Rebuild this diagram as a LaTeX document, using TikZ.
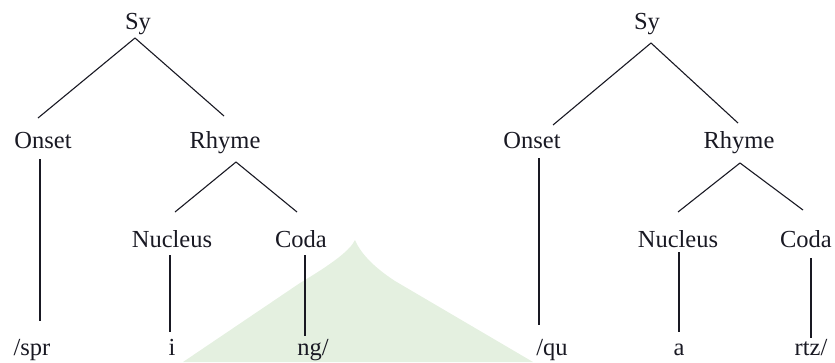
\documentclass[tikz,border=0pt]{standalone}
\usepackage{fontspec}
\setmainfont{Liberation Serif}
\definecolor{wm}{RGB}{228,240,224}
\definecolor{ink}{RGB}{25,25,35}
\begin{document}
\begin{tikzpicture}[x=1pt,y=-1pt,
  lbl/.style={anchor=base,inner sep=0pt,font=\fontsize{24.5}{28}\selectfont,text=ink},
  edge/.style={draw=ink,line width=1.1pt}]
\useasboundingbox (0,0) rectangle (835,362);
% watermark
\fill[wm] (183,362) -- (300,283) .. controls (335,262) and (350,250) .. (355,240)
  .. controls (360,252) and (372,266) .. (395,281) -- (533,362) -- cycle;
% left tree
\node[lbl] (sy) at (138,29) {Sy};
\node[lbl] (on) at (43,148) {Onset};
\node[lbl] (rh) at (225,148) {Rhyme};
\node[lbl] (nu) at (172,247) {Nucleus};
\node[lbl] (co) at (301,247) {Coda};
\node[lbl] (spr) at (32,355) {/spr};
\node[lbl] (i) at (172,355) {i};
\node[lbl] (ng) at (313,355) {ng/};
\draw[edge] ([shift={(-3,9)}]sy.base) -- ([shift={(-5,-30)}]on.base);
\draw[edge] ([shift={(-3,9)}]sy.base) -- ([shift={(-1,-32)}]rh.base);
\draw[edge] ([shift={(11,14)}]rh.base) -- ([shift={(3,-35)}]nu.base);
\draw[edge] ([shift={(11,14)}]rh.base) -- ([shift={(-4,-35)}]co.base);
\draw[edge] ([shift={(-3,11)}]on.base) -- ([shift={(8,-34)}]spr.base);
\draw[edge] ([shift={(-2,8)}]nu.base) -- ([shift={(-2,-23)}]i.base);
\draw[edge] ([shift={(4,8)}]co.base) -- ([shift={(-8,-19)}]ng.base);
% right tree
\node[lbl] (sy2) at (647,29) {Sy};
\node[lbl] (on2) at (532,148) {Onset};
\node[lbl] (rh2) at (739,148) {Rhyme};
\node[lbl] (nu2) at (678,247) {Nucleus};
\node[lbl] (co2) at (806,247) {Coda};
\node[lbl] (qu) at (552,355) {/qu};
\node[lbl] (a) at (679,355) {a};
\node[lbl] (rtz) at (811,355) {rtz/};
\draw[edge] ([shift={(4,14)}]sy2.base) -- ([shift={(21,-23)}]on2.base);
\draw[edge] ([shift={(4,14)}]sy2.base) -- ([shift={(-1,-25)}]rh2.base);
\draw[edge] ([shift={(1,15)}]rh2.base) -- ([shift={(0,-35)}]nu2.base);
\draw[edge] ([shift={(1,15)}]rh2.base) -- ([shift={(-3,-37)}]co2.base);
\draw[edge] ([shift={(7,10)}]on2.base) -- ([shift={(-13,-30)}]qu.base);
\draw[edge] ([shift={(1,5)}]nu2.base) -- ([shift={(0,-23)}]a.base);
\draw[edge] ([shift={(5,11)}]co2.base) -- ([shift={(0,-17)}]rtz.base);
\end{tikzpicture}
\end{document}
